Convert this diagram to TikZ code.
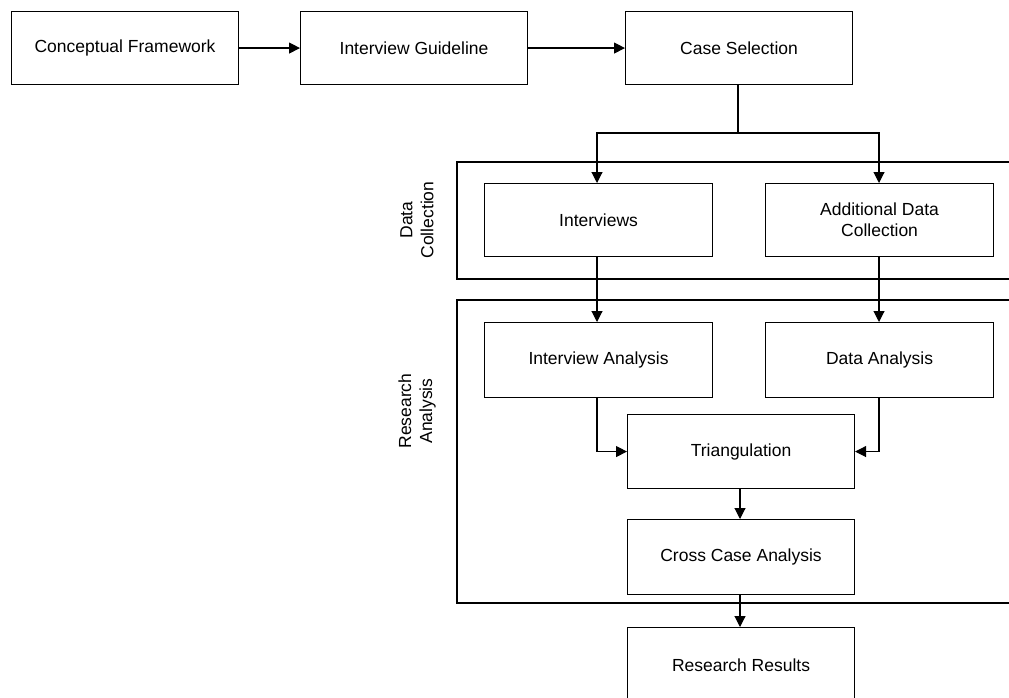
\documentclass[tikz,border=0pt]{standalone}
\usepackage{fontspec}
\setmainfont{Liberation Sans}
\usetikzlibrary{arrows.meta}
\begin{document}
\begin{tikzpicture}[x=1pt,y=-1pt,
  line width=1.1pt,
  box/.style={draw, line width=1.1pt, minimum width=227pt, minimum height=73pt,
    inner sep=0pt, align=center, font=\fontsize{17.5}{21}\selectfont, anchor=north west},
  grp/.style={draw, line width=1.1pt},
  glabel/.style={rotate=90, align=center, font=\fontsize{17.5}{21}\selectfont},
  flow/.style={-{Triangle[length=11pt,width=11pt]}, line width=1.1pt}]
  \useasboundingbox (0,0) rectangle (1009,698);
  \clip (0,0) rectangle (1009,698);
  \fill[white] (0,0) rectangle (1009,698);

  % phase groups, open to the right
  \draw[grp] (1030,162) -- (457,162) -- (457,279) -- (1030,279);
  \draw[grp] (1030,300) -- (457,300) -- (457,603) -- (1030,603);
  \node[glabel] (lblDC) at (417,220) {Data\\Collection};
  \node[glabel] (lblRA) at (417,411) {Research\\Analysis};

  % steps
  \node[box] (cf) at (11,11) {Conceptual Framework};
  \node[box] (ig) at (300,11) {Interview Guideline};
  \node[box] (cs) at (625,11) {Case Selection};
  \node[box, minimum width=228pt] (iv) at (484,183) {Interviews};
  \node[box, minimum width=228pt] (ad) at (765,183) {Additional Data\\Collection};
  \node[box, minimum width=228pt, minimum height=75pt] (ia) at (484,322) {Interview Analysis};
  \node[box, minimum width=228pt, minimum height=75pt] (da) at (765,322) {Data Analysis};
  \node[box, minimum height=74pt] (tr) at (627,414) {Triangulation};
  \node[box, minimum height=75pt] (cc) at (627,519) {Cross Case Analysis};
  \node[box, minimum height=75pt] (rr) at (627,627) {Research Results};

  % connectors
  \draw[flow] (cf) -- (ig);
  \draw[flow] (ig) -- (cs);
  \coordinate (split) at (738,133);
  \draw (cs.south -| split) -- (split);
  \draw[flow] (split) -| (iv.north -| 597,0);
  \draw[flow] (split) -| (ad.north -| 879,0);
  \draw[flow] (iv.south -| 597,0) -- (ia.north -| 597,0);
  \draw[flow] (ad.south -| 879,0) -- (da.north -| 879,0);
  \draw[flow] (ia.south -| 597,0) |- (tr.west);
  \draw[flow] (da.south -| 879,0) |- (tr.east);
  \draw[flow] (tr.south -| 740,0) -- (cc.north -| 740,0);
  \draw[flow] (cc.south -| 740,0) -- (rr.north -| 740,0);
\end{tikzpicture}
\end{document}
